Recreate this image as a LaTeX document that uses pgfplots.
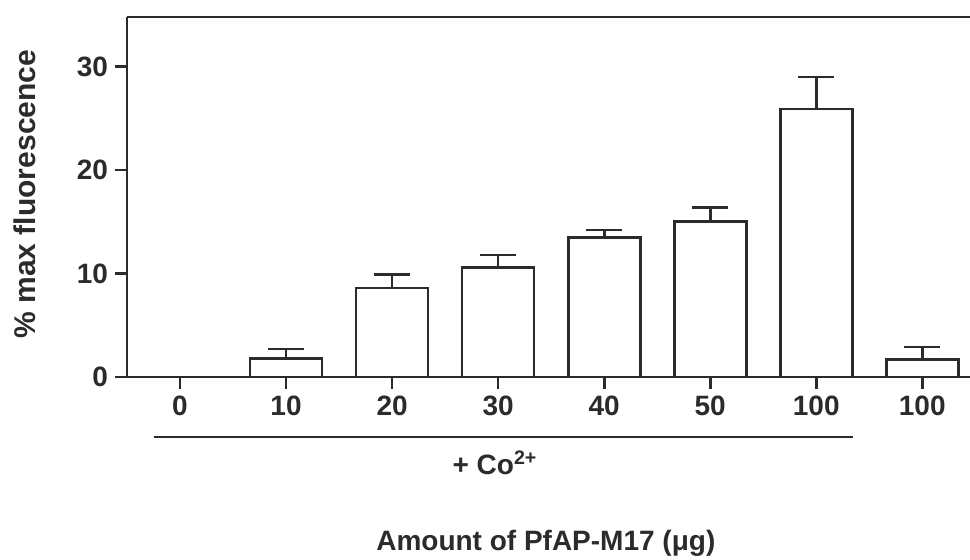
\documentclass[border=0pt]{standalone}
\usepackage{fontspec}
\setmainfont{Liberation Sans}
\usepackage{pgfplots}
\pgfplotsset{compat=1.18}
\definecolor{ink}{HTML}{2B2B2B}
\begin{document}
\begin{tikzpicture}[font=\fontsize{14}{16}\selectfont\bfseries]
\useasboundingbox (-63.5pt,-91.5pt) rectangle (421.5pt,188.5pt);
\begin{axis}[
    scale only axis,
    width=421.5pt, height=180pt,
    xmin=-0.5, xmax=7.45,
    ymin=0, ymax=34.8,
    axis x line*=bottom,
    axis y line*=left,
    axis line style={ink, line width=1.35pt},
    tick style={ink, line width=1.35pt},
    tick align=outside,
    major tick length=6pt,
    xtick={0,...,7},
    xticklabels={0,10,20,30,40,50,100,100},
    ytick={0,10,20,30},
    ticklabel style={text=ink},
    /pgf/number format/assume math mode=true,
    ybar, bar width=36pt,
    clip=false,
]
% one series, error bars upward only
\addplot[draw=ink, fill=white, line width=1.35pt,
    error bars/.cd, y dir=plus, y explicit,
    error bar style={ink, line width=1.35pt},
    error mark options={ink, line width=1.35pt, mark size=9pt, rotate=90}]
    coordinates {
    (0,0) +- (0,0)
    (1,1.8) +- (0,0.9)
    (2,8.6) +- (0,1.3)
    (3,10.6) +- (0,1.2)
    (4,13.5) +- (0,0.7)
    (5,15.0) +- (0,1.4)
    (6,25.9) +- (0,3.1)
    (7,1.7) +- (0,1.2)
    };
\draw[ink, line width=1.35pt] (rel axis cs:0,1) -- (rel axis cs:1,1);
\draw[ink, line width=1.35pt] ([yshift=-30pt]axis cs:-0.25,0) -- ([yshift=-30pt]axis cs:6.35,0);
\node[text=ink] at ([yshift=-43pt]axis cs:2.97,0) {+ Co\textsuperscript{2+}};
\node[text=ink] at ([yshift=-83pt]axis cs:3.45,0) {Amount of PfAP-M17 (μg)};
\node[text=ink, rotate=90, font=\fontsize{15}{17}\selectfont\bfseries] at ([xshift=-51pt]rel axis cs:0,0.508) {\% max fluorescence};
\end{axis}
\end{tikzpicture}
\end{document}
